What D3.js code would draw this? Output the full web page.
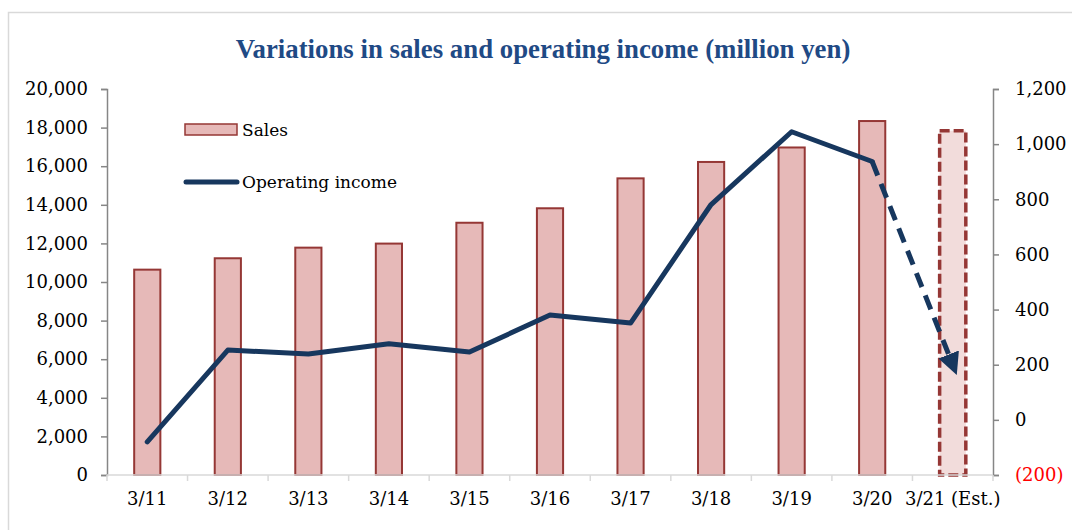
<!DOCTYPE html>
<html>
<head>
<meta charset="utf-8">
<script src="https://cdn.jsdelivr.net/npm/d3@7"></script>
<style>
  body { margin: 0; background: #fff; }
  svg { display: block; }
</style>
</head>
<body>
<svg id="chart" width="1072" height="530"></svg>
<script>
const years = ['3/11', '3/12', '3/13', '3/14', '3/15', '3/16', '3/17', '3/18', '3/19', '3/20', '3/21 (Est.)'];
const sales = [10640, 11230, 11780, 11990, 13070, 13820, 15370, 16220, 16970, 18340, 17840];
const operatingIncome = [-80, 253, 239, 276, 246, 380, 351, 781, 1045, 937, 200];
const salesTicks = [0, 2000, 4000, 6000, 8000, 10000, 12000, 14000, 16000, 18000, 20000];
const incomeTicks = [-200, 0, 200, 400, 600, 800, 1000, 1200];
const estIndex = 10;

const svg = d3.select('#chart');
const margin = { top: 89, bottom: 475, left: 107, right: 993 };
const serif = 'DejaVu Serif, serif';

// chart frame
svg.append('rect')
  .attr('x', 8.5).attr('y', 12.5)
  .attr('width', 1100).attr('height', 600)
  .attr('fill', 'none')
  .attr('stroke', '#d9d9d9')
  .attr('stroke-width', 1.5);

svg.append('text')
  .attr('x', 543).attr('y', 58)
  .attr('text-anchor', 'middle')
  .attr('font-family', 'Liberation Serif, serif')
  .attr('font-weight', 'bold')
  .attr('font-size', 26.8)
  .attr('fill', '#1f4a85')
  .text('Variations in sales and operating income (million yen)');

const x = d3.scaleBand()
  .domain(years)
  .range([margin.left, margin.right])
  .paddingInner(0.675)
  .paddingOuter(0.3375);

const ySales = d3.scaleLinear().domain([0, 20000]).range([margin.bottom, margin.top]);
const yIncome = d3.scaleLinear().domain([-200, 1200]).range([margin.bottom, margin.top]);

const cx = d => x(d) + x.bandwidth() / 2;

// bars
svg.append('g')
  .selectAll('rect')
  .data(years.slice(0, estIndex))
  .join('rect')
  .attr('x', d => x(d))
  .attr('width', x.bandwidth())
  .attr('y', (d, i) => ySales(sales[i]))
  .attr('height', (d, i) => ySales(0) - ySales(sales[i]))
  .attr('fill', '#e6b9b8')
  .attr('stroke', '#953735')
  .attr('stroke-width', 2);

// estimated bar
svg.append('rect')
  .attr('x', x(years[estIndex]))
  .attr('width', x.bandwidth())
  .attr('y', ySales(sales[estIndex]))
  .attr('height', ySales(0) - ySales(sales[estIndex]))
  .attr('fill', '#f2dcdb')
  .attr('stroke', '#953735')
  .attr('stroke-width', 3.5)
  .attr('stroke-dasharray', '10,4');

// left axis
const leftAxis = svg.append('g')
  .attr('transform', `translate(${margin.left},0)`)
  .call(d3.axisLeft(ySales).tickValues(salesTicks).tickSize(6).tickPadding(13).tickFormat(d3.format(',')));
leftAxis.select('.domain').attr('stroke', '#868686').attr('stroke-width', 1.5);
leftAxis.selectAll('.tick line').attr('stroke', '#868686').attr('stroke-width', 1.5);
leftAxis.selectAll('text').attr('font-family', serif).attr('font-size', 18).attr('fill', '#000');

// right axis
const rightAxis = svg.append('g')
  .attr('transform', `translate(${margin.right},0)`)
  .call(d3.axisRight(yIncome).tickValues(incomeTicks).tickSize(6).tickPadding(16)
    .tickFormat(d => d < 0 ? `(${d3.format(',')(-d)})` : d3.format(',')(d)));
rightAxis.select('.domain').attr('stroke', '#868686').attr('stroke-width', 1.5);
rightAxis.selectAll('.tick line').attr('stroke', '#868686').attr('stroke-width', 1.5);
rightAxis.selectAll('text').attr('font-family', serif).attr('font-size', 18)
  .attr('fill', d => d < 0 ? '#ff0000' : '#000');

// x axis
const xg = svg.append('g');
xg.append('line')
  .attr('x1', margin.left).attr('x2', margin.right)
  .attr('y1', margin.bottom).attr('y2', margin.bottom)
  .attr('stroke', '#d9d9d9').attr('stroke-width', 1.5);
xg.selectAll('line.tk')
  .data(d3.range(years.length + 1))
  .join('line')
  .attr('class', 'tk')
  .attr('x1', i => margin.left + i * x.step())
  .attr('x2', i => margin.left + i * x.step())
  .attr('y1', margin.bottom).attr('y2', margin.bottom + 6)
  .attr('stroke', '#d9d9d9').attr('stroke-width', 1.5);
xg.selectAll('text')
  .data(years)
  .join('text')
  .attr('x', d => cx(d))
  .attr('y', 505)
  .attr('text-anchor', 'middle')
  .attr('font-family', serif)
  .attr('font-size', 18)
  .attr('fill', '#000')
  .text(d => d);

// operating income line
const line = d3.line()
  .x(d => cx(years[d]))
  .y(d => yIncome(operatingIncome[d]));

svg.append('path')
  .datum(d3.range(0, estIndex))
  .attr('d', line)
  .attr('fill', 'none')
  .attr('stroke', '#17375e')
  .attr('stroke-width', 5)
  .attr('stroke-linejoin', 'round')
  .attr('stroke-linecap', 'round');

svg.append('defs').append('marker')
  .attr('id', 'arrow')
  .attr('viewBox', '0 0 10 10')
  .attr('refX', 5).attr('refY', 5)
  .attr('markerWidth', 4.4).attr('markerHeight', 4.4)
  .attr('orient', 'auto')
  .append('path')
  .attr('d', 'M0,0 L10,5 L0,10 Z')
  .attr('fill', '#17375e');

svg.append('path')
  .datum([estIndex - 1, estIndex])
  .attr('d', line)
  .attr('fill', 'none')
  .attr('stroke', '#17375e')
  .attr('stroke-width', 5)
  .attr('stroke-dasharray', '15,9')
  .attr('marker-end', 'url(#arrow)');

// legend
const legend = svg.append('g');
legend.append('rect')
  .attr('x', 185).attr('y', 124).attr('width', 52).attr('height', 11)
  .attr('fill', '#e6b9b8').attr('stroke', '#953735').attr('stroke-width', 1.5);
legend.append('text')
  .attr('x', 242).attr('y', 136)
  .attr('font-family', serif).attr('font-size', 17).attr('fill', '#000')
  .text('Sales');
legend.append('line')
  .attr('x1', 186).attr('x2', 237).attr('y1', 182).attr('y2', 182)
  .attr('stroke', '#17375e').attr('stroke-width', 5).attr('stroke-linecap', 'round');
legend.append('text')
  .attr('x', 242).attr('y', 188)
  .attr('font-family', serif).attr('font-size', 17).attr('fill', '#000')
  .text('Operating income');
</script>
</body>
</html>
